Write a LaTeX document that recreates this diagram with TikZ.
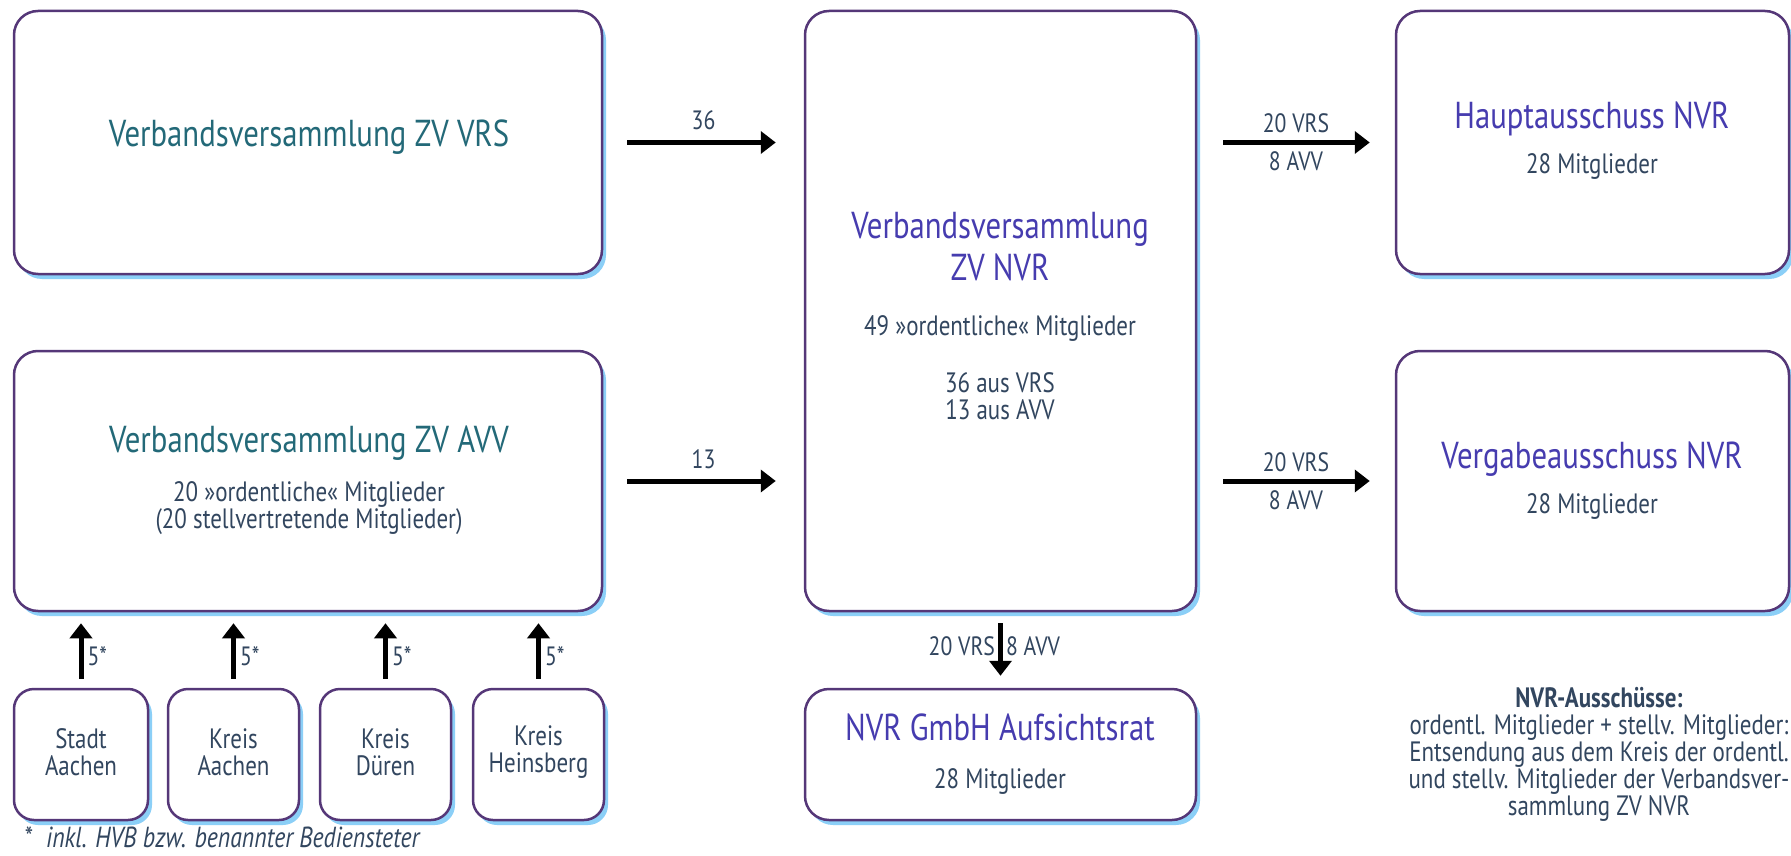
\documentclass[tikz,border=0pt]{standalone}
\usepackage{fontspec}
\setmainfont{PT Sans}[FakeStretch=0.82]
\usetikzlibrary{arrows.meta,shadows}
\definecolor{boxline}{RGB}{85,55,120}
\definecolor{ttl}{RGB}{70,60,175}
\definecolor{ttlg}{RGB}{35,105,120}
\definecolor{subc}{RGB}{50,70,95}
\definecolor{glow}{RGB}{110,195,245}
\tikzset{
  box/.style={draw=boxline, line width=2.5pt, rounded corners=24pt, fill=white,
    drop shadow={shadow xshift=4pt, shadow yshift=-5pt, fill=glow, opacity=0.8}},
  smallbox/.style={box, rounded corners=20pt},
  arr/.style={line width=5pt, -{Triangle[length=15pt,width=22pt]}},
  ttlfont/.style={font=\fontsize{37.5}{42}\selectfont, text=ttl, inner sep=0pt, align=center},
  ttlgfont/.style={ttlfont, text=ttlg},
  subfont/.style={font=\fontsize{28}{27}\selectfont, text=subc, inner sep=0pt, align=center},
  lbl/.style={font=\fontsize{26.5}{28}\selectfont, text=subc, inner sep=2pt},
}
\begin{document}
\begin{tikzpicture}[x=1pt,y=-1pt]
\useasboundingbox[fill=white] (0,0) rectangle (1791,856);
% boxes
\node[box, minimum width=588pt, minimum height=263pt] (vrs) at (308,142.5) {};
\node[box, minimum width=588pt, minimum height=260pt] (avv) at (308,481) {};
\node[box, minimum width=391pt, minimum height=600pt] (nvr) at (1000.5,311) {};
\node[box, minimum width=391pt, minimum height=131pt] (gmbh) at (1000.5,754.5) {};
\node[box, minimum width=393pt, minimum height=263pt] (haupt) at (1592.5,142.5) {};
\node[box, minimum width=393pt, minimum height=260pt] (verg) at (1592.5,481) {};
\node[smallbox, minimum width=134pt, minimum height=131pt] (sa) at (81,754.5) {};
\node[smallbox, minimum width=131pt, minimum height=131pt] (ka) at (233.5,754.5) {};
\node[smallbox, minimum width=131pt, minimum height=131pt] (kd) at (385.5,754.5) {};
\node[smallbox, minimum width=131pt, minimum height=131pt] (kh) at (538.5,754.5) {};
% texts
\node[ttlgfont] (tvrs) at (309,137) {Verbandsversammlung ZV VRS};
\node[ttlgfont] (tavv) at (309,443) {Verbandsversammlung ZV AVV};
\node[subfont] (savv) at (309,508) {20 »ordentliche« Mitglieder\\(20 stellvertretende Mitglieder)};
\node[ttlfont] (tnvr) at (1000,247) {Verbandsversammlung\\ZV NVR};
\node[subfont] (snvr1) at (1000,328) {49 »ordentliche« Mitglieder};
\node[subfont] (snvr2) at (1000,396) {36 aus VRS\\13 aus AVV};
\node[ttlfont] (thaupt) at (1592,119) {Hauptausschuss NVR};
\node[subfont] (shaupt) at (1592,167) {28 Mitglieder};
\node[ttlfont] (tverg) at (1592,459) {Vergabeausschuss NVR};
\node[subfont] (sverg) at (1592,506) {28 Mitglieder};
\node[ttlfont] (tgmbh) at (1000,727) {NVR GmbH Aufsichtsrat};
\node[subfont] (sgmbh) at (1000,781) {28 Mitglieder};
\node[subfont] (tsa) at (81,752) {Stadt\\Aachen};
\node[subfont] (tka) at (233.5,752) {Kreis\\Aachen};
\node[subfont] (tkd) at (385.5,752) {Kreis\\Düren};
\node[subfont] (tkh) at (538.5,752) {Kreis\\Heinsberg};
\node[subfont] (note) at (1599,754) {\textbf{NVR-Ausschüsse:}\\ordentl. Mitglieder + stellv. Mitglieder:\\Entsendung aus dem Kreis der ordentl.\\und stellv. Mitglieder der Verbandsver-\\sammlung ZV NVR};
\node[subfont, anchor=west, font=\fontsize{29}{29}\selectfont] (foot) at (24,837) {\itshape *\hspace{14pt}inkl. HVB bzw. benannter Bediensteter};
% arrows
\draw[arr, shorten <=24pt, shorten >=28pt] (vrs.east) -- (vrs.east -| nvr.west) node[midway, above=8pt, lbl] (l36) {36};
\draw[arr, shorten <=24pt, shorten >=28pt] (avv.east) -- (avv.east -| nvr.west) node[midway, above=8pt, lbl] (l13) {13};
\draw[arr, shorten <=26pt, shorten >=25pt] (haupt.west -| nvr.east) -- (haupt.west)
  node[midway, above=5pt, lbl] (lh1) {20 VRS} node[midway, below=5pt, lbl] (lh2) {8 AVV};
\draw[arr, shorten <=26pt, shorten >=25pt] (verg.west -| nvr.east) -- (verg.west)
  node[midway, above=5pt, lbl] (lv1) {20 VRS} node[midway, below=5pt, lbl] (lv2) {8 AVV};
\draw[arr, shorten <=11pt, shorten >=12pt] (nvr.south) -- (gmbh.north)
  node[pos=0.45, left=1pt, lbl] (lg1) {20 VRS} node[pos=0.45, right=1pt, lbl] (lg2) {8 AVV};
\foreach \b in {sa,ka,kd,kh}{
  \draw[arr, shorten <=9pt, shorten >=11pt] (\b.north) -- (\b.north |- avv.south)
    node[pos=0.42, right=2pt, lbl] (l5\b) {5*};
}
\end{tikzpicture}
\end{document}
